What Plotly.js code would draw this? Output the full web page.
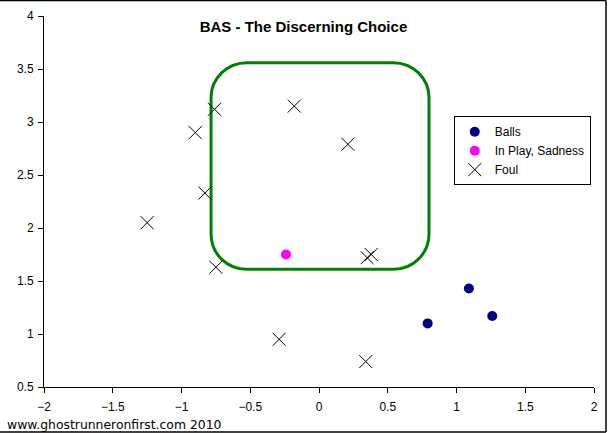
<!DOCTYPE html>
<html>
<head>
<meta charset="utf-8">
<script src="https://cdn.plot.ly/plotly-3.0.1.min.js"></script>
<style>
  html, body { margin: 0; padding: 0; background: #fff; }
  #chart { width: 610px; height: 433px; }
</style>
</head>
<body>
<div id="chart"></div>
<script>
// ---- Data ----
var ballsX = [0.79, 1.09, 1.26];
var ballsY = [1.10, 1.43, 1.17];

var inPlayX = [-0.24];
var inPlayY = [1.75];

var foulX = [-1.25, -0.90, -0.76, -0.83, -0.75, -0.18, 0.21, 0.35, 0.38, -0.29, 0.34];
var foulY = [2.05, 2.90, 3.12, 2.33, 1.63, 3.15, 2.79, 1.72, 1.75, 0.95, 0.74];

var seriesNames = ["Balls", "In Play, Sadness", "Foul"];
var chartTitle = "BAS - The Discerning Choice";
var footerText = "www.ghostrunneronfirst.com 2010";

// strike-zone style box (data units)
var boxX = [-0.785, 0.80];
var boxY = [1.61, 3.56];
var boxRadius = [0.26, 0.33];

function roundedRectPath(x0, x1, y0, y1, rx, ry) {
  var k = 0.5523;
  var p = [];
  p.push("M " + (x0 + rx) + "," + y1);
  p.push("L " + (x1 - rx) + "," + y1);
  p.push("C " + (x1 - rx + rx * k) + "," + y1 + " " + x1 + "," + (y1 - ry + ry * k) + " " + x1 + "," + (y1 - ry));
  p.push("L " + x1 + "," + (y0 + ry));
  p.push("C " + x1 + "," + (y0 + ry - ry * k) + " " + (x1 - rx + rx * k) + "," + y0 + " " + (x1 - rx) + "," + y0);
  p.push("L " + (x0 + rx) + "," + y0);
  p.push("C " + (x0 + rx - rx * k) + "," + y0 + " " + x0 + "," + (y0 + ry - ry * k) + " " + x0 + "," + (y0 + ry));
  p.push("L " + x0 + "," + (y1 - ry));
  p.push("C " + x0 + "," + (y1 - ry + ry * k) + " " + (x0 + rx - rx * k) + "," + y1 + " " + (x0 + rx) + "," + y1);
  p.push("Z");
  return p.join(" ");
}

var traces = [
  {
    x: ballsX, y: ballsY, name: seriesNames[0], type: "scatter", mode: "markers",
    marker: { symbol: "circle", size: 10, color: "#000080" },
    cliponaxis: false
  },
  {
    x: inPlayX, y: inPlayY, name: seriesNames[1], type: "scatter", mode: "markers",
    marker: { symbol: "circle", size: 10, color: "#FF00FF" },
    cliponaxis: false
  },
  {
    x: foulX, y: foulY, name: seriesNames[2], type: "scatter", mode: "markers",
    marker: { symbol: "x-thin", size: 13, color: "#000000", line: { width: 1, color: "#000000" } },
    cliponaxis: false
  }
];

var layout = {
  width: 610,
  height: 433,
  margin: { l: 44, r: 16, t: 16, b: 46 },
  paper_bgcolor: "#ffffff",
  plot_bgcolor: "#ffffff",
  font: { family: "Liberation Sans, Arial, sans-serif", size: 12, color: "#000000" },
  title: {
    text: "<b>" + chartTitle + "</b>",
    font: { family: "Liberation Sans, Arial, sans-serif", size: 15, color: "#000000" },
    x: 0.4975, xref: "container", xanchor: "center",
    y: 0.938, yref: "container", yanchor: "middle"
  },
  xaxis: {
    range: [-2, 2], dtick: 0.5, tick0: -2,
    showgrid: false, zeroline: false,
    showline: true, linecolor: "#000000", linewidth: 1,
    ticks: "outside", ticklen: 5, tickcolor: "#000000", tickwidth: 1,
    tickfont: { size: 12, color: "#000000" },
    ticklabelstandoff: 4,
    fixedrange: true
  },
  yaxis: {
    range: [0.5, 4], dtick: 0.5, tick0: 0.5,
    showgrid: false, zeroline: false,
    showline: true, linecolor: "#000000", linewidth: 1,
    ticks: "outside", ticklen: 5, tickcolor: "#000000", tickwidth: 1,
    tickfont: { size: 12, color: "#000000" },
    ticklabelstandoff: 2,
    fixedrange: true
  },
  showlegend: true,
  legend: {
    x: 0.745, y: 0.73, xanchor: "left", yanchor: "top",
    bgcolor: "#ffffff", bordercolor: "#000000", borderwidth: 1,
    font: { family: "Liberation Sans, Arial, sans-serif", size: 12, color: "#000000" },
    itemwidth: 30, tracegroupgap: 2
  },
  shapes: [
    {
      type: "path", xref: "x", yref: "y",
      path: roundedRectPath(boxX[0], boxX[1], boxY[0], boxY[1], boxRadius[0], boxRadius[1]),
      line: { color: "#008000", width: 3 },
      fillcolor: "rgba(0,0,0,0)",
      layer: "below"
    },
    // figure border (top, right, bottom)
    { type: "line", xref: "paper", yref: "paper", x0: -0.1, x1: 1.0218, y0: 1.0418, y1: 1.0418, line: { color: "#000", width: 1.5 } },
    { type: "line", xref: "paper", yref: "paper", x0: 1.0218, x1: 1.0218, y0: 1.0418, y1: -0.1213, line: { color: "#000", width: 1.5 } },
    { type: "line", xref: "paper", yref: "paper", x0: -0.1, x1: 1.0218, y0: -0.1213, y1: -0.1213, line: { color: "#000", width: 1.5 } }
  ],
  annotations: [
    {
      text: footerText, xref: "paper", yref: "paper",
      x: -0.071, y: -0.102, xanchor: "left", yanchor: "middle",
      showarrow: false,
      font: { family: "DejaVu Sans, Verdana, sans-serif", size: 12.4, color: "#000000" }
    }
  ]
};

Plotly.newPlot("chart", traces, layout, { displayModeBar: false, staticPlot: true });
</script>
</body>
</html>
